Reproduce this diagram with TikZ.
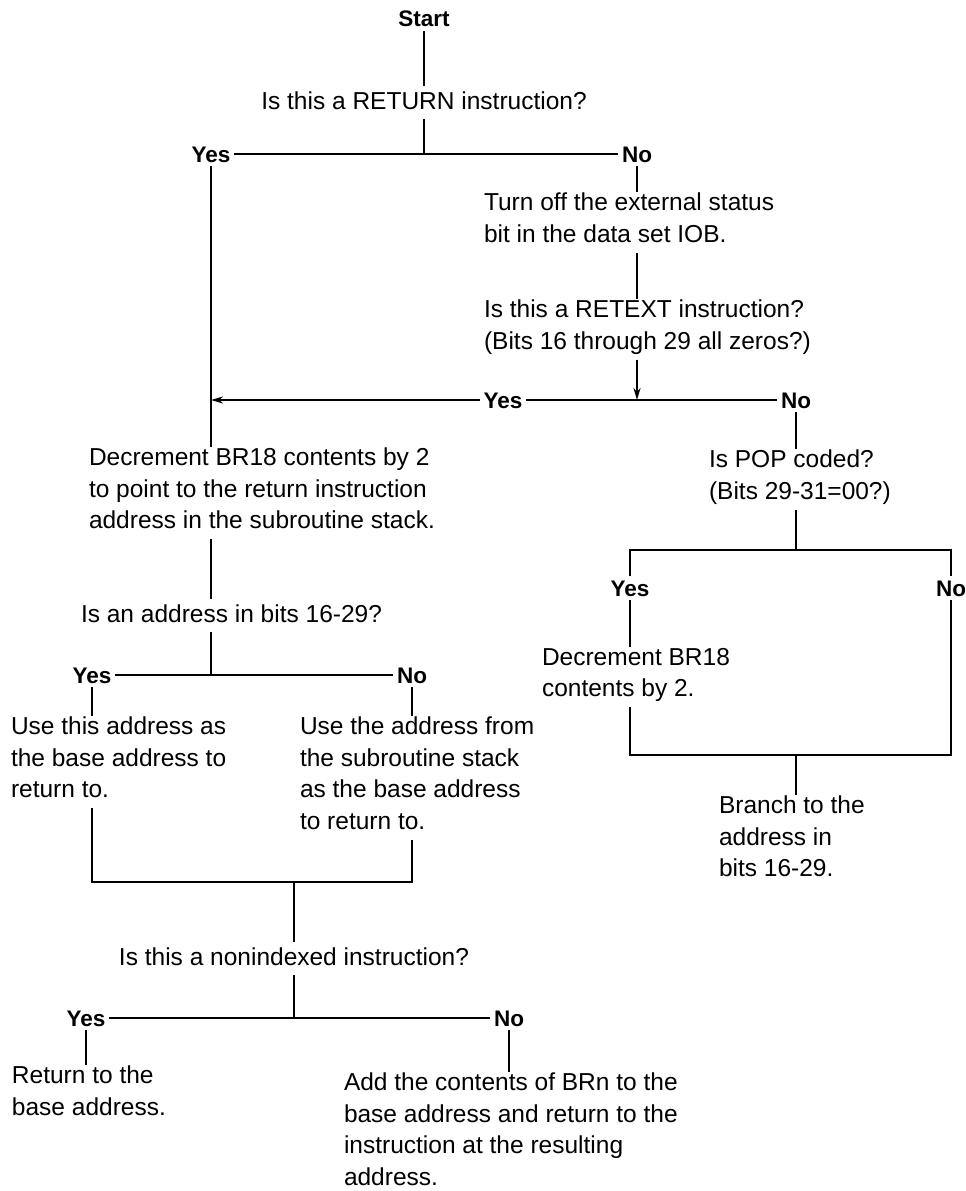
\documentclass[tikz,border=0pt]{standalone}
\usepackage{fontspec}
\setmainfont{Liberation Sans}
\usetikzlibrary{arrows.meta}
\begin{document}
\begin{tikzpicture}[x=1pt,y=-1pt,
  line width=2.8pt,
  txt/.style={inner sep=0pt, outer sep=1pt, align=left, font=\fontsize{24.5}{31.5}\selectfont, execute at begin node=\strut, execute at end node=\strut},
  lab/.style={inner sep=0pt, outer sep=4pt, text height=16pt, text depth=0pt, font=\fontsize{22.5}{26}\selectfont\bfseries},
  arr/.style={-{Stealth[length=12pt,width=7pt]}}
]
\useasboundingbox (0,0) rectangle (966,1191);
% top
\node[lab] (start) at (424,19) {Start};
\node[txt, anchor=base] (q1) at (424,109) {Is this a RETURN instruction?};
\node[lab] (yes1) at (211,154) {Yes};
\node[lab] (no1) at (637,154) {No};
\coordinate (j1) at (q1.south |- yes1);
\draw (start.south) -- (q1.north);
\draw (q1.south) -- (j1);
\draw (yes1.east) -- (no1.west);
% right branch of first question
\node[txt, anchor=north west] (turnoff) at (483,192) {Turn off the external status\\bit in the data set IOB.};
\draw (no1.south) -- (no1.south |- turnoff.north);
\node[txt, anchor=north west] (retext) at (483,299) {Is this a RETEXT instruction?\\(Bits 16 through 29 all zeros?)};
\draw (turnoff.south -| no1) -- (retext.north -| no1);
\node[lab] (yes2) at (503,400) {Yes};
\node[lab] (no2) at (796,400) {No};
\coordinate (j2) at (no1 |- yes2);
\coordinate (j3) at (yes1 |- yes2);
\draw[arr] (retext.south -| no1) -- (j2);
\draw[arr] (yes2.west) -- (j3);
\draw (yes2.east) -- (no2.west);
% left column
\node[txt, anchor=north west] (dec1) at (88,447) {Decrement BR18 contents by 2\\to point to the return instruction\\address in the subroutine stack.};
\draw (yes1.south) -- (yes1.south |- dec1.north);
\node[txt, anchor=base west] (q2) at (80,622) {Is an address in bits 16-29?};
\draw (dec1.south -| yes1) -- (q2.north -| yes1);
\node[lab] (yes3) at (92,675) {Yes};
\node[lab] (no3) at (412,675) {No};
\coordinate (j4) at (yes1 |- yes3);
\draw (q2.south -| yes1) -- (j4);
\draw (yes3.east) -- (no3.west);
\node[txt, anchor=north west] (use1) at (10,716) {Use this address as\\the base address to\\return to.};
\node[txt, anchor=north west] (use2) at (299,716) {Use the address from\\the subroutine stack\\as the base address\\to return to.};
\draw (yes3.south) -- (yes3.south |- use1.north);
\draw (no3.south) -- (no3.south |- use2.north);
\coordinate (m1) at (92,882);
\coordinate (m2) at (412,882);
\draw (use1.south -| yes3) -- (m1) -- (m2) -- (use2.south -| no3);
\node[txt, anchor=base] (q3) at (294,965) {Is this a nonindexed instruction?};
\coordinate (j5) at (q3 |- m1);
\draw (j5) -- (q3.north);
\node[lab] (yes4) at (86,1018) {Yes};
\node[lab] (no4) at (509,1018) {No};
\coordinate (j6) at (q3 |- yes4);
\draw (q3.south) -- (j6);
\draw (yes4.east) -- (no4.west);
\node[txt, anchor=north west] (ret) at (11,1065) {Return to the\\base address.};
\node[txt, anchor=north west] (add) at (343,1072) {Add the contents of BRn to the\\base address and return to the\\instruction at the resulting\\address.};
\draw (yes4.south) -- (yes4.south |- ret.north);
\draw (no4.south) -- (no4.south |- add.north);
% right column
\node[txt, anchor=north west] (pop) at (708,449) {Is POP coded?\\(Bits 29-31=00?)};
\draw (no2.south) -- (no2.south |- pop.north);
\node[lab] (yes5) at (630,588) {Yes};
\node[lab] (no5) at (951,588) {No};
\coordinate (t1) at (630,550);
\coordinate (t2) at (951,550);
\coordinate (j7) at (no2 |- t1);
\draw (pop.south -| no2) -- (j7);
\draw (yes5.north) -- (t1) -- (t2) -- (no5.north);
\node[txt, anchor=north west] (dec2) at (541,647) {Decrement BR18\\contents by 2.};
\draw (yes5.south) -- (yes5.south |- dec2.north);
\coordinate (b1) at (630,755);
\coordinate (b2) at (951,755);
\draw (dec2.south -| yes5) -- (b1) -- (b2) -- (no5.south);
\coordinate (j8) at (no2 |- b1);
\node[txt, anchor=north west] (br) at (718,795) {Branch to the\\address in\\bits 16-29.};
\draw (j8) -- (j8 |- br.north);
\end{tikzpicture}
\end{document}
